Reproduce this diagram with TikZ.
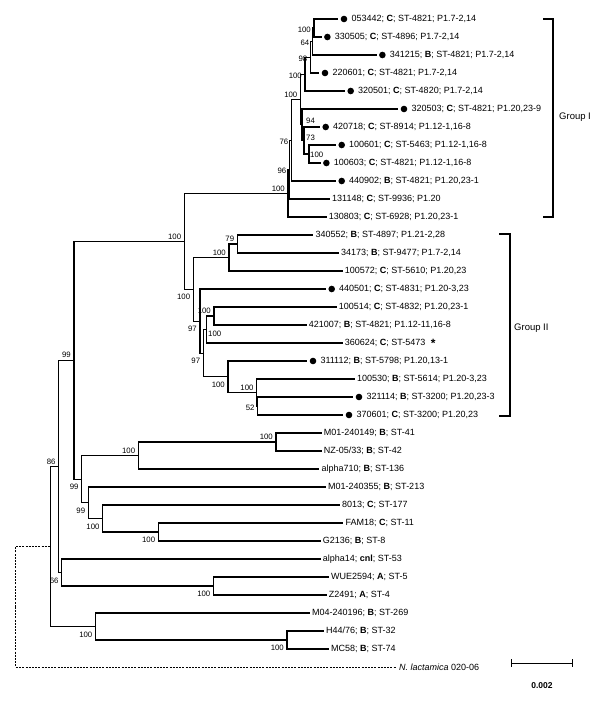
\documentclass[tikz,border=0pt]{standalone}
\usepackage{fontspec}
\setmainfont{Liberation Sans}
\usetikzlibrary{positioning}

\newcommand\sg[1]{\textbf{#1}}

\tikzset{
  branch/.style={line width=1.1pt},
  outgroup/.style={line width=0.9pt, dash pattern=on 2pt off 1.2pt},
  taxon/.style={anchor=west, inner sep=0pt, font=\fontsize{9}{10}\selectfont},
  dotmark/.style={circle, fill, inner sep=0pt, minimum size=6.6pt, xshift=-3.8pt},
  marked/.style={taxon, label={[dotmark]west:{}}},
  boot/.style={inner sep=0pt, font=\fontsize{7.8}{9}\selectfont},
  bsa/.style={boot, anchor=south east, xshift=-3pt, yshift=2pt},
  bsb/.style={boot, anchor=north east, xshift=-3pt, yshift=-5pt},
  bsl/.style={boot, anchor=east, xshift=-3pt, yshift=-1.5pt},
  bsr/.style={boot, anchor=west},
  group/.style={anchor=west, inner sep=0pt, font=\fontsize{9.5}{11}\selectfont}
}

\begin{document}
\begin{tikzpicture}[x=1pt, y=-1pt]
  \useasboundingbox (0,0) rectangle (600,705);

  % tips (branch ends)
  \coordinate (e0) at (338.3,19);   \coordinate (e1) at (321.7,37);
  \coordinate (e2) at (376.7,55);   \coordinate (e3) at (319.3,73);
  \coordinate (e4) at (345,91);     \coordinate (e5) at (398.3,109);
  \coordinate (e6) at (320,127);    \coordinate (e7) at (336,145);
  \coordinate (e8) at (320.7,163);  \coordinate (e9) at (336,181);
  \coordinate (e10) at (330,199);   \coordinate (e11) at (326.7,217);
  \coordinate (e12) at (313.3,235); \coordinate (e13) at (339,253);
  \coordinate (e14) at (342.7,271); \coordinate (e15) at (326,289);
  \coordinate (e16) at (336.7,307); \coordinate (e17) at (306.7,325);
  \coordinate (e18) at (342.7,343); \coordinate (e19) at (307.3,361);
  \coordinate (e20) at (355,379);   \coordinate (e21) at (353.3,397);
  \coordinate (e22) at (343.3,415); \coordinate (e23) at (321.7,433);
  \coordinate (e24) at (321.7,451); \coordinate (e25) at (319.3,469);
  \coordinate (e26) at (326,487);   \coordinate (e27) at (340,505);
  \coordinate (e28) at (343.3,523); \coordinate (e29) at (320.7,541);
  \coordinate (e30) at (320.7,559); \coordinate (e31) at (329,577);
  \coordinate (e32) at (326.7,595); \coordinate (e33) at (310,613);
  \coordinate (e34) at (324,631);   \coordinate (e35) at (329,649);
  \coordinate (e36) at (396,667);

  % taxa
  \node[marked, right=13pt of e0] (t0) {053442; \sg{C}; ST-4821; P1.7-2,14};
  \node[marked, right=13pt of e1] (t1) {330505; \sg{C}; ST-4896; P1.7-2,14};
  \node[marked, right=13pt of e2] (t2) {341215; \sg{B}; ST-4821; P1.7-2,14};
  \node[marked, right=13pt of e3] (t3) {220601; \sg{C}; ST-4821; P1.7-2,14};
  \node[marked, right=13pt of e4] (t4) {320501; \sg{C}; ST-4820; P1.7-2,14};
  \node[marked, right=13pt of e5] (t5) {320503; \sg{C}; ST-4821; P1.20,23-9};
  \node[marked, right=13pt of e6] (t6) {420718; \sg{C}; ST-8914; P1.12-1,16-8};
  \node[marked, right=13pt of e7] (t7) {100601; \sg{C}; ST-5463; P1.12-1,16-8};
  \node[marked, right=13pt of e8] (t8) {100603; \sg{C}; ST-4821; P1.12-1,16-8};
  \node[marked, right=13pt of e9] (t9) {440902; \sg{B}; ST-4821; P1.20,23-1};
  \node[taxon, right=2pt of e10] (t10) {131148; \sg{C}; ST-9936; P1.20};
  \node[taxon, right=2pt of e11] (t11) {130803; \sg{C}; ST-6928; P1.20,23-1};
  \node[taxon, right=2pt of e12] (t12) {340552; \sg{B}; ST-4897; P1.21-2,28};
  \node[taxon, right=2pt of e13] (t13) {34173; \sg{B}; ST-9477; P1.7-2,14};
  \node[taxon, right=2pt of e14] (t14) {100572; \sg{C}; ST-5610; P1.20,23};
  \node[marked, right=13pt of e15] (t15) {440501; \sg{C}; ST-4831; P1.20-3,23};
  \node[taxon, right=2pt of e16] (t16) {100514; \sg{C}; ST-4832; P1.20,23-1};
  \node[taxon, right=2pt of e17] (t17) {421007; \sg{B}; ST-4821; P1.12-11,16-8};
  \node[taxon, right=2pt of e18] (t18) {360624; \sg{C}; ST-5473\hspace{5.5pt}\raisebox{-2pt}{\fontsize{12}{12}\selectfont\bfseries *}};
  \node[marked, right=13pt of e19] (t19) {311112; \sg{B}; ST-5798; P1.20,13-1};
  \node[taxon, right=2pt of e20] (t20) {100530; \sg{B}; ST-5614; P1.20-3,23};
  \node[marked, right=13pt of e21] (t21) {321114; \sg{B}; ST-3200; P1.20,23-3};
  \node[marked, right=13pt of e22] (t22) {370601; \sg{C}; ST-3200; P1.20,23};
  \node[taxon, right=2pt of e23] (t23) {M01-240149; \sg{B}; ST-41};
  \node[taxon, right=2pt of e24] (t24) {NZ-05/33; \sg{B}; ST-42};
  \node[taxon, right=2pt of e25] (t25) {alpha710; \sg{B}; ST-136};
  \node[taxon, right=2pt of e26] (t26) {M01-240355; \sg{B}; ST-213};
  \node[taxon, right=2pt of e27] (t27) {8013; \sg{C}; ST-177};
  \node[taxon, right=2pt of e28] (t28) {FAM18; \sg{C}; ST-11};
  \node[taxon, right=2pt of e29] (t29) {G2136; \sg{B}; ST-8};
  \node[taxon, right=2pt of e30] (t30) {alpha14; \sg{cnl}; ST-53};
  \node[taxon, right=2pt of e31] (t31) {WUE2594; \sg{A}; ST-5};
  \node[taxon, right=2pt of e32] (t32) {Z2491; \sg{A}; ST-4};
  \node[taxon, right=2pt of e33] (t33) {M04-240196; \sg{B}; ST-269};
  \node[taxon, right=2pt of e34] (t34) {H44/76; \sg{B}; ST-32};
  \node[taxon, right=2pt of e35] (t35) {MC58; \sg{B}; ST-74};
  \node[taxon, right=3pt of e36] (t36) {\textit{N. lactamica} 020-06};

  % internal nodes
  \coordinate (A) at (314,28);      \coordinate (B) at (312.5,41.5);
  \coordinate (C) at (310.5,57.25); \coordinate (D) at (305,74.1);
  \coordinate (X3) at (309,154);    \coordinate (X2) at (304,140.5);
  \coordinate (X1) at (302,124.75); \coordinate (E) at (300.5,99.4);
  \coordinate (I) at (291.5,140.2); \coordinate (H) at (289.5,169.6);
  \coordinate (G) at (288,193.3);
  \coordinate (Y0) at (237.3,244);  \coordinate (Y1) at (229,257.5);
  \coordinate (Z1) at (214,316);    \coordinate (Z2) at (206.7,329.5);
  \coordinate (Y4) at (257.7,406);  \coordinate (Y3) at (256.7,392.5);
  \coordinate (Y2) at (228,376.75); \coordinate (K3) at (203.3,353.1);
  \coordinate (K2) at (200,321.1);  \coordinate (K) at (193.3,289.3);
  \coordinate (J) at (184.3,241.3);
  \coordinate (N0) at (276,442);    \coordinate (N1) at (138.3,455.5);
  \coordinate (N4) at (158.3,532);  \coordinate (N3) at (102.7,518.5);
  \coordinate (N2) at (88.3,502.75); \coordinate (M) at (81.7,479.1);
  \coordinate (L) at (74,360.2);
  \coordinate (R) at (213.5,586);   \coordinate (Q) at (61.7,572.5);
  \coordinate (P) at (58.7,466.4);
  \coordinate (T) at (287,640);     \coordinate (S) at (95.5,626.5);
  \coordinate (O) at (50.7,546.4);  \coordinate (root) at (15.4,606.7);

  % branches
  \draw[branch] (A) |- (e0) (A) |- (e1)  (B) |- (A) (B) |- (e2)
    (C) |- (B) (C) |- (e3)  (D) |- (C) (D) |- (e4)
    (X3) |- (e7) (X3) |- (e8)  (X2) |- (e6) (X2) |- (X3)
    (X1) |- (e5) (X1) |- (X2)  (E) |- (D) (E) |- (X1)
    (I) |- (E) (I) |- (e9)  (H) |- (I) (H) |- (e10)
    (G) |- (H) (G) |- (e11);
  \draw[branch] (Y0) |- (e12) (Y0) |- (e13)  (Y1) |- (Y0) (Y1) |- (e14)
    (Z1) |- (e16) (Z1) |- (e17)  (Z2) |- (Z1) (Z2) |- (e18)
    (Y4) |- (e21) (Y4) |- (e22)  (Y3) |- (e20) (Y3) |- (Y4)
    (Y2) |- (e19) (Y2) |- (Y3)  (K3) |- (Z2) (K3) |- (Y2)
    (K2) |- (e15) (K2) |- (K3)  (K) |- (Y1) (K) |- (K2)
    (J) |- (G) (J) |- (K);
  \draw[branch] (N0) |- (e23) (N0) |- (e24)  (N1) |- (N0) (N1) |- (e25)
    (N4) |- (e28) (N4) |- (e29)  (N3) |- (e27) (N3) |- (N4)
    (N2) |- (e26) (N2) |- (N3)  (M) |- (N1) (M) |- (N2)
    (L) |- (J) (L) |- (M)
    (R) |- (e31) (R) |- (e32)  (Q) |- (e30) (Q) |- (R)
    (P) |- (L) (P) |- (Q)
    (T) |- (e34) (T) |- (e35)  (S) |- (e33) (S) |- (T)
    (O) |- (P) (O) |- (S);
  \draw[outgroup] (root) |- (O) (root) |- (e36);

  % bootstrap values
  \node[bsl] (bA) at (A) {100};
  \node[bsl] (bB) at (B) {64};
  \node[bsl] (bC) at (C) {98};
  \node[bsl] (bD) at (D) {100};
  \node[bsr, xshift=1pt, yshift=-1pt] (bX3) at (X3) {100};
  \node[bsr, xshift=2pt, yshift=2.5pt] (bX2) at (X2) {73};
  \node[bsr, xshift=4pt, yshift=3.7pt] (bX1) at (X1) {94};
  \node[bsa] (bE) at (E) {100};
  \node[bsl] (bI) at (I) {76};
  \node[bsl] (bH) at (H) {96};
  \node[bsa] (bG) at (G) {100};
  \node[bsa] (bY0) at (Y0) {79};
  \node[bsa] (bY1) at (Y1) {100};
  \node[bsa] (bZ1) at (Z1) {100};
  \node[bsr, xshift=1.3pt, yshift=-4.5pt] (bZ2) at (Z2) {100};
  \node[bsl] (bY4) at (Y4) {52};
  \node[bsa] (bY3) at (Y3) {100};
  \node[bsb] (bY2) at (Y2) {100};
  \node[bsb] (bK3) at (K3) {97};
  \node[bsb] (bK2) at (K2) {97};
  \node[bsb] (bK) at (K) {100};
  \node[bsa] (bJ) at (J) {100};
  \node[bsa] (bN0) at (N0) {100};
  \node[bsa] (bN1) at (N1) {100};
  \node[bsb] (bN4) at (N4) {100};
  \node[bsb] (bN3) at (N3) {100};
  \node[bsb] (bN2) at (N2) {99};
  \node[bsb] (bM) at (M) {99};
  \node[bsa] (bL) at (L) {99};
  \node[bsb] (bR) at (R) {100};
  \node[bsb] (bQ) at (Q) {66};
  \node[bsa] (bP) at (P) {86};
  \node[bsb] (bT) at (T) {100};
  \node[bsb] (bS) at (S) {100};

  % groups
  \draw[line width=1.4pt] (543,19) -- (553,19) -- (553,217) -- (543,217);
  \node[group] (g1) at (559,117) {Group I};
  \draw[line width=1.4pt] (499,234) -- (510,234) -- (510,416) -- (499,416);
  \node[group] (g2) at (514,328) {Group II};

  % scale bar
  \draw[line width=1pt] (511,659) -- (511,667) (511,663) -- (572,663) (572,659) -- (572,667);
  \node[boot, font=\fontsize{8.5}{10}\selectfont\bfseries] (sc) at (542,686) {0.002};
\end{tikzpicture}
\end{document}
